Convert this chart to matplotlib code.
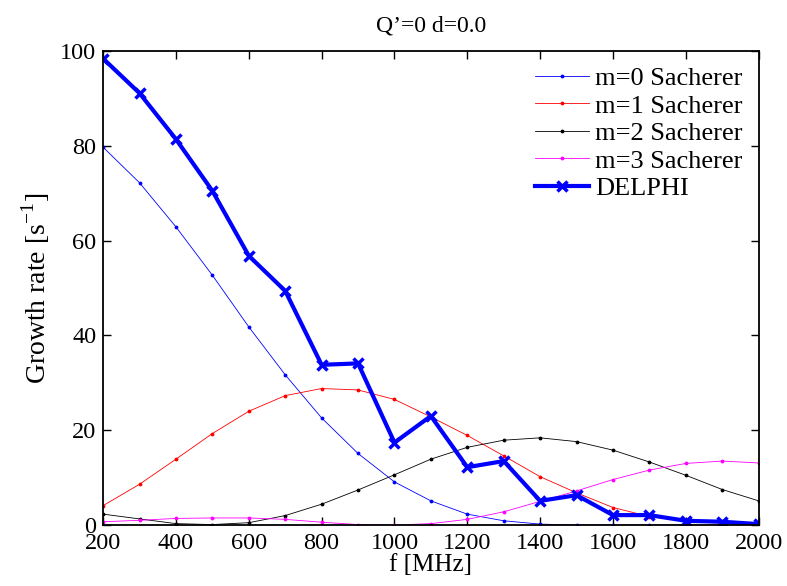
import matplotlib
matplotlib.use("Agg")
import matplotlib.pyplot as plt

freq = [200, 300, 400, 500, 600, 700, 800, 900, 1000, 1100,
        1200, 1300, 1400, 1500, 1600, 1700, 1800, 1900, 2000]

m0 = [79.7, 72.2, 62.9, 52.7, 41.8, 31.7, 22.6, 15.1, 9.1, 5.1,
      2.3, 0.9, 0.2, 0.0, 0.0, 0.0, 0.0, 0.0, 0.0]
m1 = [4.1, 8.6, 13.9, 19.3, 24.0, 27.3, 28.8, 28.5, 26.5, 22.8,
      18.9, 14.6, 10.2, 6.8, 3.7, 1.8, 0.8, 0.4, 0.2]
m2 = [2.3, 1.3, 0.3, 0.1, 0.5, 2.0, 4.4, 7.4, 10.6, 13.9,
      16.4, 17.9, 18.4, 17.6, 15.8, 13.3, 10.5, 7.5, 5.1]
m3 = [0.7, 1.0, 1.4, 1.5, 1.5, 1.2, 0.6, 0.1, 0.0, 0.3,
      1.2, 2.8, 5.0, 7.2, 9.6, 11.6, 13.0, 13.5, 13.1]
delphi = [98.4, 91.1, 81.4, 70.5, 56.8, 49.4, 33.8, 34.1, 17.4, 23.0,
          12.2, 13.5, 5.1, 6.3, 2.1, 2.1, 0.9, 0.7, 0.2]

plt.rcParams['font.family'] = ['Liberation Serif', 'DejaVu Serif']
plt.rcParams['mathtext.fontset'] = 'custom'
plt.rcParams['mathtext.rm'] = 'Liberation Serif'

fig = plt.figure(figsize=(7.87, 5.86), dpi=100)
ax = fig.add_axes([0.131, 0.104, 0.833, 0.809])

ax.plot(freq, m0, color='#0000ff', lw=0.6, marker='.', ms=3.5, label='m=0 Sacherer')
ax.plot(freq, m1, color='#ff0000', lw=0.6, marker='.', ms=3.5, label='m=1 Sacherer')
ax.plot(freq, m2, color='black', lw=0.6, marker='.', ms=3.5, label='m=2 Sacherer')
ax.plot(freq, m3, color='#ff00ff', lw=0.6, marker='.', ms=3.5, label='m=3 Sacherer')
ax.plot(freq, delphi, color='#0000ff', lw=3, marker='x', ms=7, mew=2.5, label='DELPHI')

ax.set_xlim(200, 2000)
ax.set_ylim(0, 100)
ax.set_xticks(range(200, 2001, 200))
ax.set_yticks(range(0, 101, 20))
ax.tick_params(direction='in', top=True, right=True, labelsize=17.5, length=6, width=1)
ax.tick_params(axis='x', pad=6)
ax.tick_params(axis='y', pad=5)
for s in ax.spines.values():
    s.set_linewidth(1.3)

ax.set_xlabel('f [MHz]', fontsize=18, labelpad=0)
ax.set_ylabel('Growth rate [s$^{-1}$]', fontsize=20, labelpad=6)
ax.set_title('Q\u2019=0 d=0.0', fontsize=17, pad=14)
ax.legend(loc='upper right', frameon=False, fontsize=19, handlelength=2.05,
          labelspacing=0.15, borderaxespad=0.2, handletextpad=0.25)

fig.savefig('out.png', dpi=100)
